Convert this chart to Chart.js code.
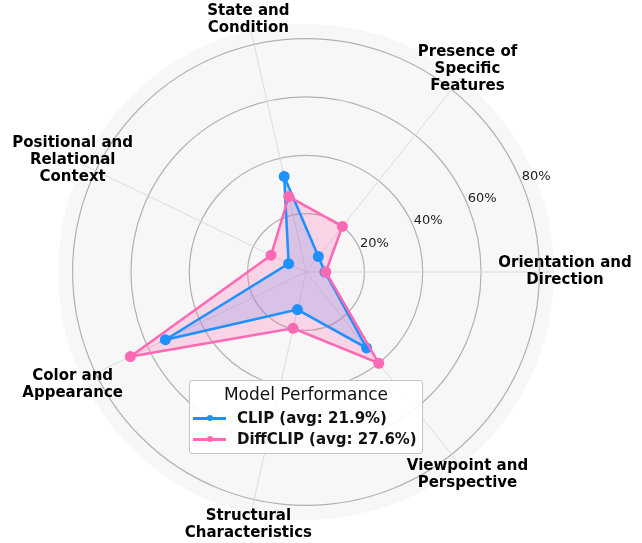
<!DOCTYPE html>
<html>
<head>
<meta charset="utf-8">
<script src="https://cdn.jsdelivr.net/npm/chart.js@4.4.0/dist/chart.umd.min.js"></script>
<style>
  html, body { margin: 0; padding: 0; background: #fff; }
  #wrap { position: relative; width: 642px; height: 543px; }
  #legend {
    position: absolute; left: 189px; top: 380px; width: 234px; height: 74px;
    box-sizing: border-box; border: 1px solid #c4c4c4; border-radius: 3px;
    background: rgba(255,255,255,0.9); font-family: 'DejaVu Sans', sans-serif; color: #111;
  }
  #legend .title { position: absolute; left: 0; right: 0; top: 3px; text-align: center; font-size: 17px; }
  #legend .row { position: absolute; left: 3px; height: 20px; display: flex; align-items: center; font-size: 15px; font-weight: bold; }
  #legend .handle { position: relative; width: 33px; height: 3px; margin-right: 11px; }
  #legend .handle i { position: absolute; left: 14px; top: -1.5px; width: 6px; height: 6px; border-radius: 50%; background: inherit; }
</style>
</head>
<body>
<div id="wrap">
  <canvas id="radar" width="642" height="543"></canvas>
  <div id="legend">
    <div class="title">Model Performance</div>
    <div class="row" style="top:27px"><span class="handle" style="background:#1E90FF"><i></i></span>CLIP (avg: 21.9%)</div>
    <div class="row" style="top:48px"><span class="handle" style="background:#FF69B4"><i></i></span>DiffCLIP (avg: 27.6%)</div>
  </div>
</div>
<script>
// categories in clockwise order, starting from the right-hand axis
const CATEGORIES = [
  ['Orientation and', 'Direction'],
  ['Viewpoint and', 'Perspective'],
  ['Structural', 'Characteristics'],
  ['Color and', 'Appearance'],
  ['Positional and', 'Relational', 'Context'],
  ['State and', 'Condition'],
  ['Presence of', 'Specific', 'Features']
];
const CLIP_SCORES     = [6.5, 33.3, 13.2, 53.5, 6.6, 33.6, 6.8];
const DIFFCLIP_SCORES = [6.8, 40.0, 19.8, 66.8, 13.3, 26.5, 20.0];
const TICK_VALUES = [20, 40, 60, 80];
const R_MAX = 85;

const BLUE = '#1E90FF';
const PINK = '#FF69B4';

// gray polar face, category labels and angled tick labels
const polarDecor = {
  id: 'polarDecor',
  beforeDraw(chart) {
    const r = chart.scales.r;
    const ctx = chart.ctx;
    ctx.save();
    ctx.fillStyle = '#f7f7f7';
    ctx.beginPath();
    ctx.arc(r.xCenter, r.yCenter, r.drawingArea, 0, Math.PI * 2);
    ctx.fill();
    ctx.restore();
  },
  afterDraw(chart) {
    const r = chart.scales.r;
    const ctx = chart.ctx;
    ctx.save();
    ctx.fillStyle = '#000';
    ctx.textAlign = 'center';
    ctx.textBaseline = 'middle';
    ctx.font = "bold 15px 'DejaVu Sans'";
    chart.data.labels.forEach((lines, i) => {
      const p = r.getPointPosition(i, r.drawingArea + 11);
      const lh = 17;
      const y0 = p.y - (lines.length - 1) * lh / 2;
      lines.forEach((t, k) => ctx.fillText(t, p.x, y0 + k * lh));
    });
    ctx.font = "13px 'DejaVu Sans'";
    ctx.fillStyle = '#222';
    ctx.textAlign = 'left';
    ctx.textBaseline = 'bottom';
    TICK_VALUES.forEach(v => {
      const p = r.getPointPosition(0, r.getDistanceFromCenterForValue(v), -Math.PI / 8);
      ctx.fillText(v + '%', p.x, p.y);
    });
    ctx.restore();
  }
};

new Chart(document.getElementById('radar'), {
  type: 'radar',
  data: {
    labels: CATEGORIES,
    datasets: [
      {
        label: 'CLIP (avg: 21.9%)',
        data: CLIP_SCORES,
        borderColor: BLUE,
        backgroundColor: 'rgba(30,144,255,0.2)',
        pointBackgroundColor: BLUE,
        pointBorderWidth: 0,
        pointRadius: 5.5,
        borderWidth: 2.5,
        fill: true,
        order: 2
      },
      {
        label: 'DiffCLIP (avg: 27.6%)',
        data: DIFFCLIP_SCORES,
        borderColor: PINK,
        backgroundColor: 'rgba(255,105,180,0.25)',
        pointBackgroundColor: PINK,
        pointBorderWidth: 0,
        pointRadius: 5.5,
        borderWidth: 2.5,
        fill: true,
        order: 1
      }
    ]
  },
  options: {
    responsive: false,
    animation: false,
    devicePixelRatio: 1,
    layout: { padding: { left: 58, right: 87, top: 24, bottom: 22 } },
    plugins: {
      legend: { display: false },
      tooltip: { enabled: false },
      filler: { drawTime: 'beforeDatasetsDraw' }
    },
    elements: { line: { tension: 0 } },
    scales: {
      r: {
        min: 0,
        max: R_MAX,
        bounds: 'data',
        startAngle: 90,
        ticks: { display: false, stepSize: 20 },
        pointLabels: { display: false },
        grid: {
          circular: true,
          lineWidth: 1.2,
          color: c => TICK_VALUES.includes(c.tick.value) ? '#b2b2b2' : 'rgba(0,0,0,0)'
        },
        angleLines: { color: '#dcdcdc', lineWidth: 1 }
      }
    }
  },
  plugins: [polarDecor]
});
</script>
</body>
</html>
